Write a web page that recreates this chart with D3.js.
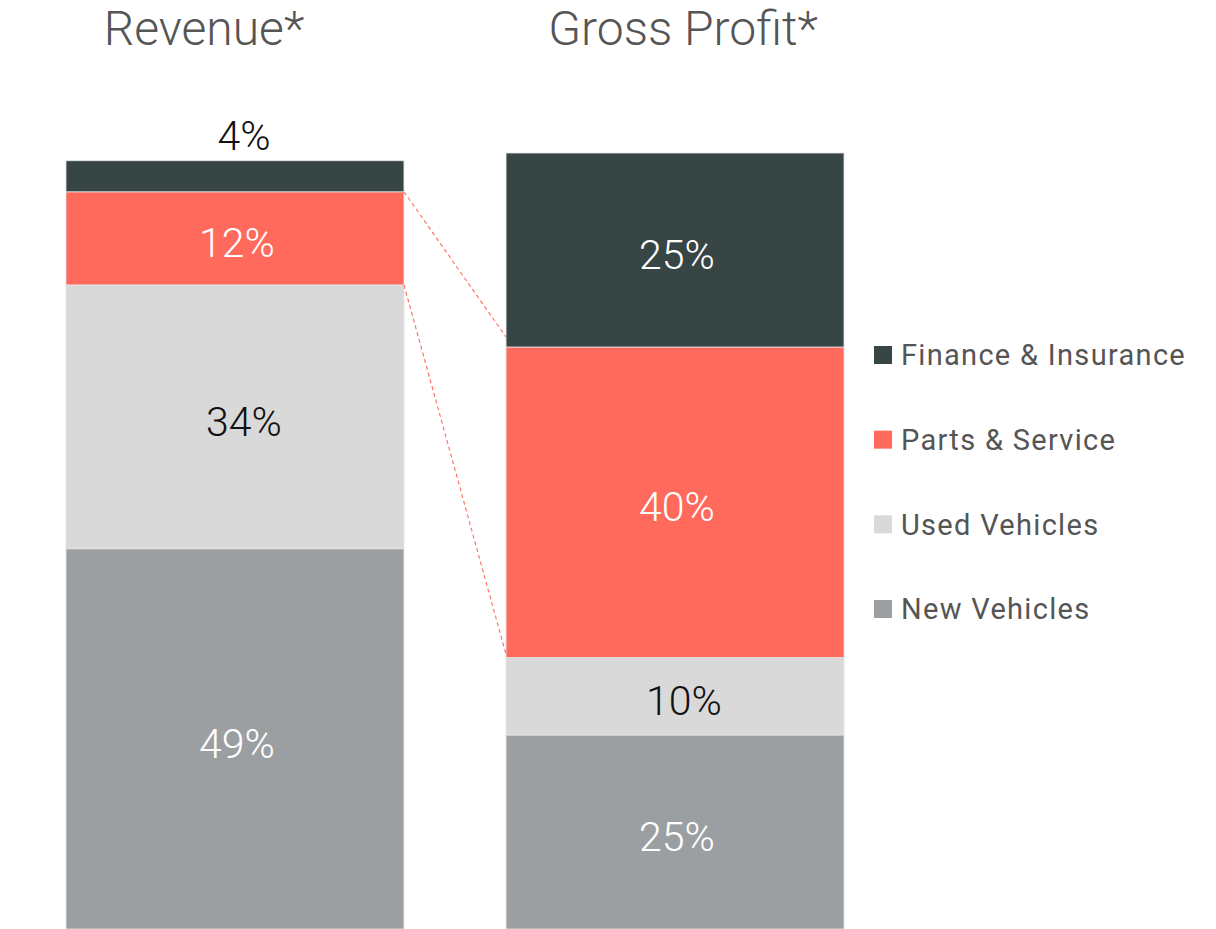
<!DOCTYPE html>
<html>
<head>
<meta charset="utf-8">
<script src="https://cdn.jsdelivr.net/npm/d3@7"></script>
<style>
  html, body { margin: 0; padding: 0; background: #fff; }
  svg { display: block; }
</style>
</head>
<body>
<svg id="chart" width="1216" height="929"></svg>
<script>
// ---- Data ----
const charts = ["Revenue*", "Gross Profit*"];
const segments = ["New Vehicles", "Used Vehicles", "Parts & Service", "Finance & Insurance"];
const revenueValues = [49, 34, 12, 4];
const grossProfitValues = [25, 10, 40, 25];
const segmentColors = ["#9c9fa2", "#d9d9d9", "#ff6a5c", "#374545"];
const labelColors = ["#ffffff", "#111111", "#ffffff", "#ffffff"];
const legendOrder = ["Finance & Insurance", "Parts & Service", "Used Vehicles", "New Vehicles"];

const seriesValues = [revenueValues, grossProfitValues];

const svg = d3.select("#chart");
const font = "Roboto, 'Open Sans', sans-serif";

const x = d3.scaleBand().domain(charts).range([66, 844]).paddingInner(0.232).paddingOuter(0);
const y = d3.scaleLinear().domain([0, 100]).range([929, 153]);

// stack
const rows = charts.map((c, i) => {
  const o = { chart: c };
  segments.forEach((s, j) => o[s] = seriesValues[i][j]);
  return o;
});
const stacked = d3.stack().keys(segments)(rows);

// bars
const layers = svg.append("g").selectAll("g").data(stacked).join("g")
  .attr("fill", (d, i) => segmentColors[i]);
layers.selectAll("rect").data(d => d).join("rect")
  .attr("x", d => x(d.data.chart))
  .attr("width", x.bandwidth())
  .attr("y", d => y(d[1]))
  .attr("height", d => y(d[0]) - y(d[1]))
  .attr("stroke", "#e4e4e4")
  .attr("stroke-width", 0.8);

// labels
stacked.forEach((layer, i) => {
  layer.forEach(d => {
    const v = d.data[layer.key];
    const h = y(d[0]) - y(d[1]);
    let cy = (y(d[0]) + y(d[1])) / 2 + 4;
    let color = labelColors[i];
    if (h < 45) { cy = y(d[1]) - 26; color = "#111111"; }
    svg.append("text")
      .attr("x", x(d.data.chart) + x.bandwidth() / 2 + (color === "#111111" ? 9 : 2))
      .attr("y", cy)
      .attr("dy", "0.36em")
      .attr("text-anchor", "middle")
      .attr("font-family", font)
      .attr("font-weight", 300)
      .attr("font-size", 41)
      .attr("fill", color)
      .text(v + "%");
  });
});

// connector dashed lines (Parts & Service)
const pIdx = segments.indexOf("Parts & Service");
const pLayer = stacked[pIdx];
const r = pLayer[0], g = pLayer[1];
const xr = x(charts[0]) + x.bandwidth();
const xg = x(charts[1]);
[[y(r[1]), y(g[1]) - 10], [y(r[0]), y(g[0]) - 3]].forEach(([y1, y2]) => {
  svg.append("line")
    .attr("x1", xr).attr("y1", y1)
    .attr("x2", xg).attr("y2", y2)
    .attr("stroke", "#ff6a5c")
    .attr("stroke-width", 1.1)
    .attr("stroke-dasharray", "4,3");
});

// titles
svg.selectAll(".title").data(charts).join("text")
  .attr("class", "title")
  .attr("x", (d, i) => x(d) + x.bandwidth() / 2 + (i === 0 ? -31 : 8))
  .attr("y", 45)
  .attr("text-anchor", "middle")
  .attr("font-family", font)
  .attr("font-weight", 300)
  .attr("font-size", 48)
  .attr("fill", "#555555")
  .text(d => d);

// legend
const legendY = d3.scalePoint().domain(legendOrder).range([355, 609]);
const lg = svg.append("g").selectAll("g").data(legendOrder).join("g")
  .attr("transform", d => `translate(874,${legendY(d)})`);
lg.append("rect")
  .attr("x", 0).attr("y", -9).attr("width", 18).attr("height", 18)
  .attr("fill", d => segmentColors[segments.indexOf(d)]);
lg.append("text")
  .attr("x", 27).attr("y", 0).attr("dy", "0.36em")
  .attr("font-family", font)
  .attr("font-size", 29)
  .attr("letter-spacing", "1.3px")
  .attr("fill", "#555555")
  .text(d => d);
</script>
</body>
</html>
